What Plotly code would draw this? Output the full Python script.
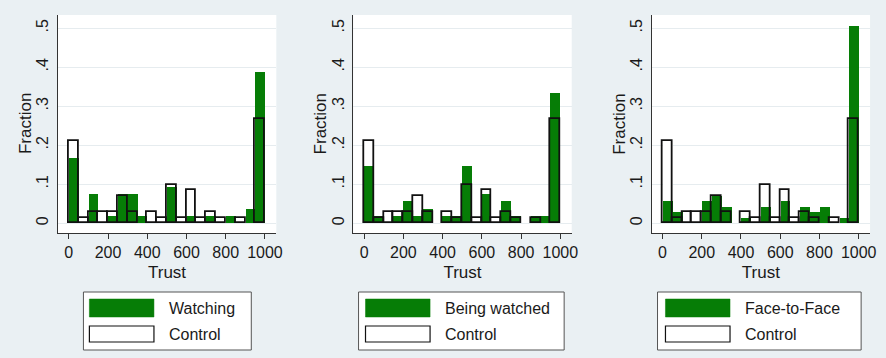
import plotly.graph_objects as go

# Histogram of trust choices (bins of width 50 on 0..1000), fraction per bin
bin_centers = [25 + 50 * i for i in range(20)]
tick_vals_x = [0, 200, 400, 600, 800, 1000]
tick_vals_y = [0, 0.1, 0.2, 0.3, 0.4, 0.5]
tick_text_y = ["0", ".1", ".2", ".3", ".4", ".5"]

control = [0.211, 0.014, 0.028, 0.028, 0.028, 0.070, 0.028, 0, 0.028, 0.014,
           0.099, 0.014, 0.085, 0.014, 0.028, 0.014, 0, 0.014, 0, 0.268]
watching = [0.167, 0, 0.074, 0, 0.019, 0.074, 0.074, 0.019, 0, 0,
            0.093, 0, 0.019, 0, 0.019, 0, 0.019, 0, 0.037, 0.389]
being_watched = [0.148, 0.019, 0, 0.019, 0.056, 0.019, 0.037, 0, 0.019, 0.019,
                 0.148, 0, 0.074, 0, 0.056, 0.019, 0, 0.019, 0.019, 0.333]
face_to_face = [0.056, 0.028, 0, 0, 0.056, 0.070, 0.042, 0, 0.014, 0,
                0.042, 0, 0.056, 0, 0.042, 0.028, 0.042, 0, 0.014, 0.507]

treatments = [("Watching", watching), ("Being watched", being_watched),
              ("Face-to-Face", face_to_face)]

W, H = 886, 358
BG = "#eaf0f3"
GREEN = "#067d06"
FONT = "Liberation Sans, Arial, sans-serif"
INK = "#1a1a1a"


def px(x):
    return x / W


def py(y):
    return 1 - y / H


# panel geometry (pixels)
panel_left = [58.2, 355.6, 656.0]
panel_w = 220
plot_top, plot_bottom = 15, 233
# legend boxes: (left, right, swatch_left)
legend_boxes = [(84, 253, 90), (361, 568, 368), (662, 867, 670)]

fig = go.Figure()
shapes = []
annotations = []

ctrl_vals = [v if v > 0 else None for v in control]

for i, (name, vals) in enumerate(treatments):
    n = "" if i == 0 else str(i + 1)
    xa, ya = "x" + n, "y" + n
    tvals = [v if v > 0 else None for v in vals]
    # control fill underneath, treatment on top, control outline last
    fig.add_trace(go.Bar(x=bin_centers, y=ctrl_vals, width=50, xaxis=xa, yaxis=ya,
                         marker=dict(color="white", line=dict(width=0)),
                         showlegend=False, hoverinfo="skip"))
    fig.add_trace(go.Bar(x=bin_centers, y=tvals, width=50, xaxis=xa, yaxis=ya,
                         name=name, marker=dict(color=GREEN, line=dict(width=0)),
                         showlegend=False))
    fig.add_trace(go.Bar(x=bin_centers, y=ctrl_vals, width=50, xaxis=xa, yaxis=ya,
                         name="Control",
                         marker=dict(color="rgba(0,0,0,0)",
                                     line=dict(width=1.8, color="#111111")),
                         showlegend=False))

    left = panel_left[i]
    fig.update_layout(**{
        "xaxis" + n: dict(
            domain=[px(left), px(left + panel_w)], range=[-56, 1058],
            anchor=ya, tickvals=tick_vals_x, ticks="outside", ticklen=5,
            tickcolor="#333", showline=True, linecolor="#333", linewidth=1,
            showgrid=False, zeroline=False,
            tickfont=dict(size=16, color=INK, family=FONT),
            title=dict(text="Trust", font=dict(size=17, color=INK, family=FONT),
                       standoff=5),
        ),
        "yaxis" + n: dict(
            domain=[py(plot_bottom), py(plot_top)], range=[-0.025, 0.534],
            anchor=xa, tickvals=tick_vals_y, ticktext=tick_text_y, tickangle=-90,
            ticks="", ticklabelstandoff=2, showline=True, linecolor="#333",
            linewidth=1, showgrid=True, gridcolor="#e6ecef", gridwidth=1,
            zeroline=False,
            tickfont=dict(size=16, color=INK, family=FONT),
        ),
    })

    # y-axis title, rotated, placed left of the tick labels
    annotations.append(dict(xref="paper", yref="paper", x=px(left - 32), y=py(124),
                            xanchor="center", yanchor="middle", showarrow=False,
                            textangle=-90, text="Fraction",
                            font=dict(size=17, color=INK, family=FONT)))

    # legend box with two entries
    bl, br, sl = legend_boxes[i]
    shapes.append(dict(type="rect", xref="paper", yref="paper",
                       x0=px(bl), x1=px(br), y0=py(350), y1=py(292),
                       fillcolor="white", line=dict(color="#555555", width=1)))
    shapes.append(dict(type="rect", xref="paper", yref="paper",
                       x0=px(sl), x1=px(sl + 65), y0=py(317), y1=py(299),
                       fillcolor=GREEN, line=dict(color=GREEN, width=0.5)))
    shapes.append(dict(type="rect", xref="paper", yref="paper",
                       x0=px(sl), x1=px(sl + 65), y0=py(342), y1=py(326),
                       fillcolor="white", line=dict(color="#111111", width=1.2)))
    for label, yc in ((name, 308.5), ("Control", 334.5)):
        annotations.append(dict(xref="paper", yref="paper", x=px(sl + 78), y=py(yc),
                                xanchor="left", yanchor="middle", showarrow=False,
                                text=label,
                                font=dict(size=16, color=INK, family=FONT)))

fig.update_layout(
    width=W, height=H, margin=dict(l=0, r=0, t=0, b=0),
    paper_bgcolor=BG, plot_bgcolor="white",
    barmode="overlay", bargap=0,
    shapes=shapes, annotations=annotations,
    showlegend=False,
)

fig.write_html("out.html")
